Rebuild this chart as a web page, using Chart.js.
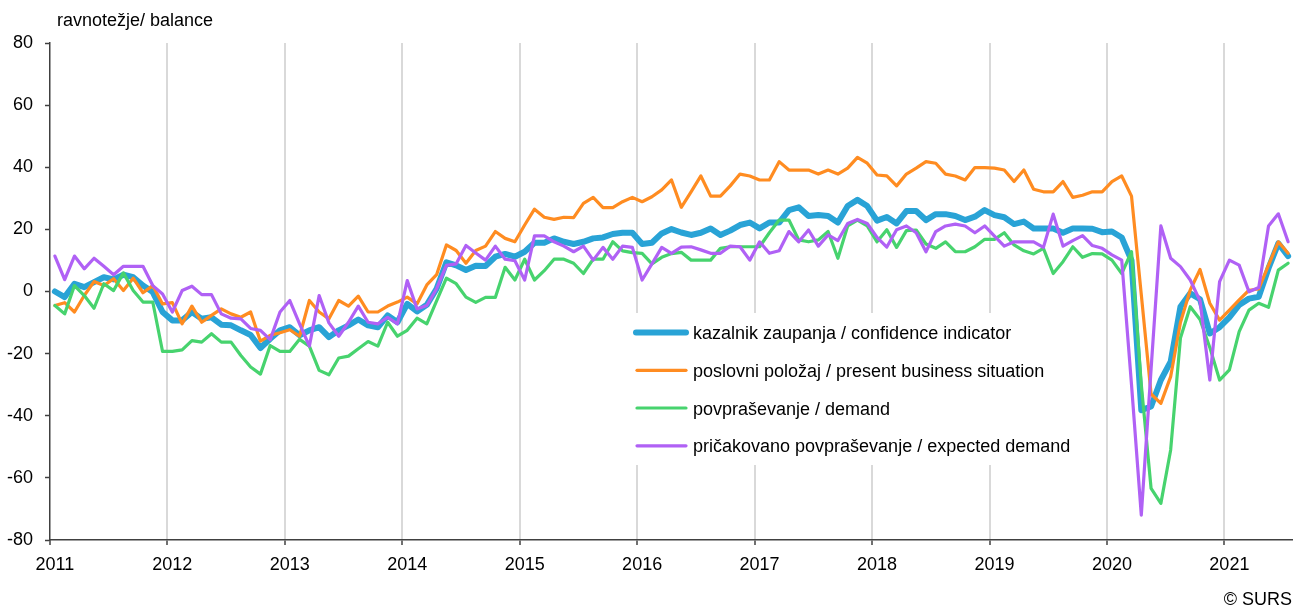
<!DOCTYPE html>
<html><head><meta charset="utf-8">
<script src="https://cdn.jsdelivr.net/npm/chart.js@4.4.1/dist/chart.umd.min.js"></script>
<style>
html,body{margin:0;padding:0;background:#fff;}
#wrap{position:relative;width:1293px;height:607px;overflow:hidden;}
canvas{position:absolute;left:0;top:0;}
.t{position:absolute;font-family:"Liberation Sans",Arial,sans-serif;font-size:18px;line-height:20px;color:#000;white-space:nowrap;}
</style></head><body>
<div id="wrap"><canvas id="c" width="1293" height="607"></canvas>
<div class="t" style="left:57px;top:10px">ravnotežje/ balance</div>
<div class="t" style="right:1px;top:589px">© SURS</div>
</div>
<script>
const years = ['2011','2012','2013','2014','2015','2016','2017','2018','2019','2020','2021'];
const months = ['01','02','03','04','05','06','07','08','09','10','11','12'];
const monthCount = 127; // Jan 2011 .. Jul 2021

const seriesNames = [
  'kazalnik zaupanja / confidence indicator',
  'poslovni položaj / present business situation',
  'povpraševanje / demand',
  'pričakovano povpraševanje / expected demand'
];

const confidence = [
  0, -1.8, 2.5, 1.4, 3.0, 4.6, 3.9, 5.4, 4.6, 1.9, -0.2, -6.6,
  -9.3, -9.3, -6.6, -8.8, -8.3, -10.7, -10.9, -12.5, -14.0, -18.2, -15.2, -12.5,
  -11.5, -14.1, -12.5, -11.5, -14.7, -12.5, -10.9, -9.0, -10.9, -11.5, -7.7, -9.9,
  -4.0, -6.4, -4.3, 0.9, 9.4, 8.4, 6.9, 8.3, 8.2, 11.2, 12.1, 11.2,
  12.8, 15.7, 15.7, 17.1, 16.0, 15.3, 16.0, 17.1, 17.4, 18.5, 18.9, 18.9,
  15.3, 15.7, 18.7, 20.1, 19.0, 18.2, 18.9, 20.3, 18.2, 19.6, 21.4, 22.2,
  20.3, 22.2, 22.2, 26.2, 27.1, 24.3, 24.6, 24.3, 22.2, 27.5, 29.5, 27.5,
  22.8, 24.0, 21.9, 25.9, 25.9, 23.0, 24.9, 24.9, 24.3, 23.0, 24.1, 26.2,
  24.6, 23.9, 21.7, 22.5, 20.3, 20.3, 20.3, 18.9, 20.3, 20.3, 20.2, 19.1,
  19.3, 17.4, 10.0, -38.2, -37.0, -28.5, -22.6, -4.9, -0.6, -2.5, -13.5, -11.5,
  -8.3, -4.3, -2.3, -1.7, 7.5, 15.5, 11.4
];
const businessSituation = [
  -4.5, -3.6, -6.6, -1.3, 3.2, 1.9, 4.1, 0.3, 4.3, -0.4, 1.9, -4.0,
  -3.6, -10.4, -4.7, -9.9, -7.7, -5.6, -7.2, -8.3, -6.6, -16.0, -14.1, -13.3,
  -12.3, -14.4, -2.9, -6.6, -8.8, -2.9, -4.7, -1.5, -6.6, -6.6, -4.7, -3.4,
  -1.8, -4.0, 2.1, 5.4, 15.0, 13.2, 9.1, 13.2, 14.6, 19.3, 17.1, 16.0,
  21.4, 26.5, 23.9, 23.2, 23.9, 23.8, 28.4, 30.3, 27.0, 27.0, 28.9, 30.3,
  28.9, 30.5, 32.7, 35.9, 27.1, 32.1, 37.2, 30.7, 30.7, 34.0, 37.8, 37.2,
  35.9, 35.9, 41.8, 39.1, 39.1, 39.1, 37.8, 39.1, 37.8, 39.7, 43.2, 41.3,
  37.5, 37.2, 34.0, 37.8, 39.7, 41.8, 41.3, 37.8, 37.2, 35.9, 39.9, 39.9,
  39.7, 39.1, 35.4, 39.1, 32.9, 32.1, 32.1, 35.4, 30.3, 31.0, 32.1, 32.1,
  35.4, 37.2, 30.7, -1.0, -33.0, -36.0, -27.4, -10.0, 0.5, 7.1, -3.8, -9.2,
  -6.0, -2.7, 0.4, 0.8, 8.5, 16.0, 12.3
];
const demand = [
  -4.5, -7.2, 1.9, -1.3, -5.4, 2.5, 0.3, 6.0, 0.3, -3.4, -3.4, -19.3,
  -19.3, -18.8, -15.8, -16.3, -13.6, -16.3, -16.3, -20.6, -24.3, -26.6, -17.4, -19.3,
  -19.3, -15.4, -17.6, -25.4, -26.8, -21.4, -20.8, -18.4, -16.1, -17.6, -9.9, -14.4,
  -12.5, -8.6, -10.4, -3.0, 4.3, 2.5, -1.8, -3.5, -1.9, -1.9, 7.8, 3.7,
  10.4, 3.7, 6.7, 10.4, 10.4, 9.1, 5.8, 10.4, 10.4, 16.0, 13.1, 12.5,
  12.3, 8.9, 11.0, 12.2, 12.6, 10.1, 10.1, 10.1, 13.9, 14.4, 14.4, 14.4,
  14.4, 18.9, 23.0, 23.0, 16.6, 16.0, 16.6, 19.3, 10.7, 21.1, 23.0, 21.1,
  16.0, 19.9, 14.2, 19.6, 19.8, 15.3, 13.9, 16.0, 12.8, 12.8, 14.4, 16.8,
  16.8, 18.9, 15.0, 13.1, 12.1, 13.9, 5.8, 9.6, 14.4, 11.0, 12.2, 12.1,
  10.1, 5.8, 12.8, -30.0, -63.4, -68.2, -51.0, -15.0, -4.9, -9.0, -18.0, -28.5,
  -25.2, -12.9, -6.0, -3.8, -5.1, 6.9, 9.1
];
const expectedDemand = [
  11.4, 3.8, 11.4, 7.3, 10.7, 8.1, 5.4, 8.1, 8.1, 8.1, 1.9, -0.8,
  -6.6, 0.3, 1.7, -1.0, -1.0, -7.2, -8.6, -8.8, -11.9, -12.5, -15.5, -6.6,
  -2.9, -10.4, -17.6, -1.3, -10.1, -14.4, -9.9, -4.7, -9.9, -10.4, -8.3, -10.4,
  3.5, -5.6, -4.5, 0.9, 8.4, 8.9, 14.8, 12.4, 10.1, 14.6, 10.4, 9.9,
  3.7, 17.9, 17.9, 16.0, 14.6, 12.8, 14.6, 10.1, 14.2, 10.4, 14.6, 14.2,
  3.7, 8.9, 14.2, 12.3, 14.3, 14.4, 13.4, 12.3, 12.3, 14.6, 14.4, 10.1,
  16.0, 12.3, 13.1, 19.3, 16.0, 19.8, 14.6, 18.2, 16.4, 21.9, 23.2, 21.9,
  17.4, 14.3, 19.9, 21.1, 18.9, 12.8, 19.3, 21.1, 21.7, 21.1, 18.9, 21.1,
  17.8, 14.6, 16.0, 16.0, 16.0, 14.2, 24.9, 14.6, 16.4, 18.0, 14.8, 13.9,
  11.8, 10.1, -30.0, -72.0, -25.0, 21.1, 10.7, 8.0, 3.7, -3.0, -28.5, 3.2,
  10.1, 8.5, -0.1, 1.3, 21.1, 25.0, 16.0
];
const yTicks = [-80, -60, -40, -20, 0, 20, 40, 60, 80];

const categories = [];
for (const y of years) for (const m of months) categories.push(y + '-' + m);
categories.length = monthCount;

const colors = ['#29A3D6', '#FF8C21', '#47D36E', '#B061F5'];
const widths = [6, 3.2, 3.2, 3.2];
const seriesData = [confidence, businessSituation, demand, expectedDemand];

const FONT = '"Liberation Sans", Arial, sans-serif';
Chart.defaults.font.family = FONT;
Chart.defaults.font.size = 18;
Chart.defaults.color = '#000';

const legendPlugin = {
  id: 'insideLegend',
  beforeDatasetsDraw(chart) {
    const ctx = chart.ctx;
    ctx.save();
    ctx.fillStyle = '#fff';
    ctx.fillRect(622, 313, 470, 152);
    const rows = [332.5, 370.3, 408, 445.8];
    ctx.font = '18px ' + FONT;
    ctx.textBaseline = 'alphabetic';
    ctx.textAlign = 'left';
    seriesNames.forEach((name, i) => {
      ctx.beginPath();
      ctx.strokeStyle = colors[i];
      ctx.lineWidth = widths[i];
      ctx.lineCap = 'round';
      ctx.moveTo(i === 0 ? 636 : 637, rows[i]);
      ctx.lineTo(686, rows[i]);
      ctx.stroke();
      ctx.fillStyle = '#000';
      ctx.fillText(name, 693, rows[i] + 6.5);
    });
    ctx.restore();
  }
};

new Chart(document.getElementById('c'), {
  type: 'line',
  data: {
    labels: categories,
    datasets: seriesData.map((d, i) => ({
      label: seriesNames[i],
      data: d,
      borderColor: colors[i],
      backgroundColor: colors[i],
      borderWidth: widths[i],
      pointRadius: 0,
      tension: 0,
      borderJoinStyle: 'round',
      borderCapStyle: 'round',
      order: 4 - i
    }))
  },
  options: {
    responsive: false,
    animation: false,
    events: [],
    layout: { padding: { top: 43, right: -2, left: 0, bottom: 0 } },
    plugins: { legend: { display: false }, tooltip: { enabled: false }, title: { display: false } },
    scales: {
      x: {
        type: 'category',
        offset: true,
        afterFit(s) { s.height = 67; s.paddingRight = 0; },
        grid: {
          offset: true,
          drawOnChartArea: true,
          color: c => (c.index !== undefined && c.index % 12 === 0 && c.index > 0) ? '#D9D9D9' : 'rgba(0,0,0,0)',
          lineWidth: 2,
          drawTicks: true,
          tickLength: 5,
          tickColor: c => (c.index !== undefined && c.index % 12 === 0) ? '#404040' : 'rgba(0,0,0,0)',
          tickWidth: 1.5
        },
        border: { display: true, color: '#404040', width: 1.5 },
        ticks: {
          autoSkip: false, maxRotation: 0, minRotation: 0, padding: 9,
          color: '#000',
          font: { size: 18 },
          callback: (v, i) => i % 12 === 0 ? years[i / 12] : ''
        }
      },
      y: {
        min: -80, max: 80,
        afterFit(s) { s.width = 50; },
        afterBuildTicks(s) { s.ticks = yTicks.map(v => ({ value: v })); },
        grid: { drawOnChartArea: false, drawTicks: true, tickLength: 5, tickColor: '#404040', tickWidth: 1.5 },
        border: { display: true, color: '#404040', width: 1.5 },
        ticks: { padding: 12, color: '#000', font: { size: 18 } }
      }
    }
  },
  plugins: [legendPlugin]
});
</script>
</body></html>
